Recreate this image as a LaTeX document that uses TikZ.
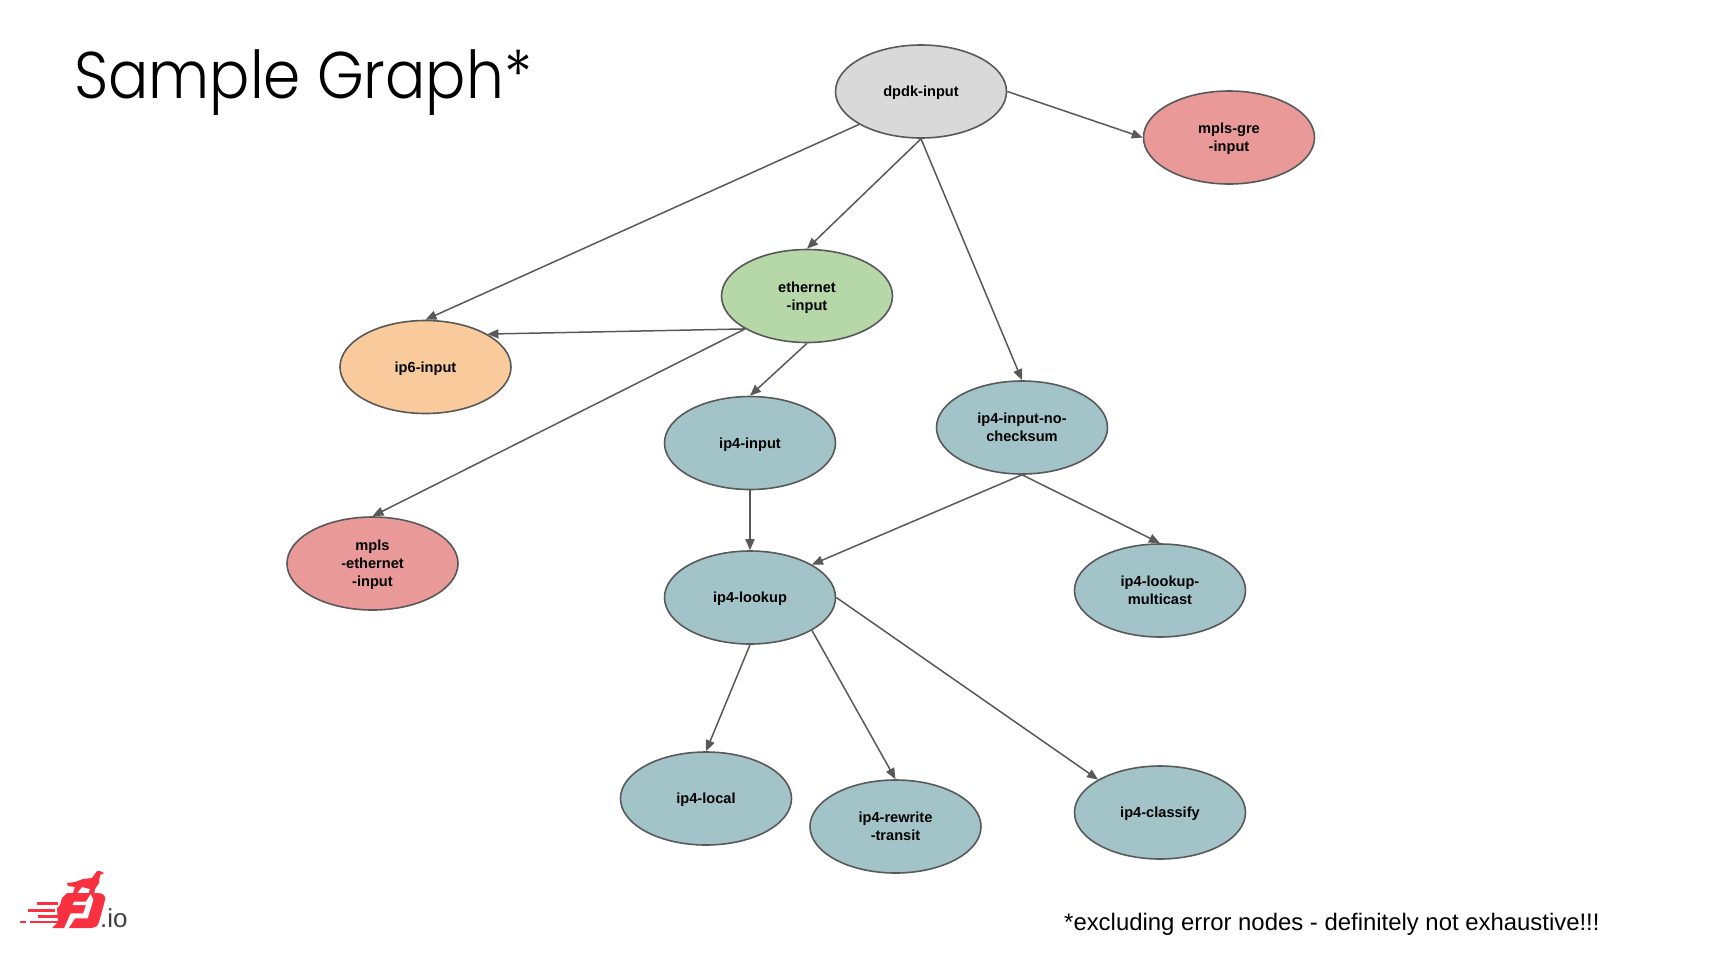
\documentclass[tikz,border=0pt]{standalone}
\usepackage{graphicx}
\usepackage{fontspec}
\setmainfont{Liberation Sans}
\newfontfamily\titlefont{Poppins Light}
\usetikzlibrary{shapes.geometric,arrows.meta}
\definecolor{edgec}{HTML}{595959}
\definecolor{cgray}{HTML}{D9D9D9}
\definecolor{cred}{HTML}{EA9999}
\definecolor{cgreen}{HTML}{B6D7A8}
\definecolor{corange}{HTML}{F9CB9C}
\definecolor{cblue}{HTML}{A2C4C9}
\definecolor{logored}{HTML}{F9303F}
\newcommand{\tstr}{\rule{0pt}{16pt}\strut}
\tikzset{
  gn/.style={ellipse,draw=edgec,line width=1.6pt,minimum width=171pt,minimum height=93pt,inner sep=0pt,align=center,
    font=\fontsize{14.6}{18}\selectfont\bfseries,text=black},
  conn/.style={draw=edgec,line width=1.5pt,-{Triangle[length=11pt,width=9pt]}},
}
\begin{document}
\begin{tikzpicture}[x=1pt,y=-1pt]
\useasboundingbox (0,0) rectangle (1719,967);
\fill[white] (0,0) rectangle (1719,967);
\node[gn,fill=cgray] (dpdk) at (921,91.5) {\tstr dpdk-input};
\node[gn,fill=cred] (gre) at (1229,137.5) {\tstr mpls-gre\\\strut -input};
\node[gn,fill=cgreen] (eth) at (807,296) {\tstr ethernet\\\strut -input};
\node[gn,fill=corange] (ip6) at (425.5,367) {\tstr ip6-input};
\node[gn,fill=cblue] (ip4) at (750,443) {\tstr ip4-input};
\node[gn,fill=cblue] (nock) at (1022,427.5) {\tstr ip4-input-no-\\\strut checksum};
\node[gn,fill=cred] (mplse) at (372.5,563.5) {\tstr mpls\\\strut -ethernet\\\strut -input};
\node[gn,fill=cblue] (lookup) at (750,597.5) {\tstr ip4-lookup};
\node[gn,fill=cblue] (multi) at (1160,590.5) {\tstr ip4-lookup-\\\strut multicast};
\node[gn,fill=cblue] (local) at (706,798.5) {\tstr ip4-local};
\node[gn,fill=cblue] (rewrite) at (895.5,826.5) {\tstr ip4-rewrite\\\strut -transit};
\node[gn,fill=cblue] (classify) at (1160,812.5) {\tstr ip4-classify};
\draw[conn] (dpdk.east) -- (gre.west);
\draw[conn] (dpdk.208) -- (ip6.north);
\draw[conn] (dpdk.south) -- (eth.north);
\draw[conn] (dpdk.south) -- (nock.north);
\draw[conn] (eth.208) -- (ip6.28);
\draw[conn] (eth.208) -- (mplse.north);
\draw[conn] (eth.south) -- (ip4.north);
\draw[conn] (ip4.south) -- (lookup.north);
\draw[conn] (nock.south) -- (lookup.28);
\draw[conn] (nock.south) -- (multi.north);
\draw[conn] (lookup.south) -- (local.north);
\draw[conn] (lookup.-28) -- (rewrite.north);
\draw[conn] (lookup.east) -- (classify.152);
\node[anchor=base west,inner sep=0pt,font=\titlefont\fontsize{66}{70}\selectfont] (title) at (74,98) {\scalebox{.905}[1]{Sample Graph*}};
\node[anchor=base west,inner sep=0pt,font=\fontsize{23.9}{28}\selectfont] (foot) at (1064,930) {*excluding error nodes - definitely not exhaustive!!!};
% logo
\fill[logored] (67,883) -- (75,882) -- (83,879) -- (92,878) -- (97,871) -- (100,871) -- (104,873) -- (100,875) -- (99,883) -- (95,889) -- (94,895) -- (88,895) -- (90,889) -- (82,887) -- (78,892) -- (75,895) -- (73,893) -- (75,887) -- (68,886) -- cycle;
\fill[logored] (67,893) -- (98,893) .. controls (103,893) and (106,896) .. (105,900) -- (99,922) .. controls (98,926) and (95,928) .. (92,928) -- (52,928) -- (58,922) -- (57,908) -- (60,905) -- (62,898) -- cycle;
\fill[white] (74,901.7) -- (86,901.7) -- (90.7,894) -- (93.3,900) -- (87.7,918.3) -- (75,918.3) -- (68.3,928.5) -- (64,928.5) -- (70.7,913.3) -- (83.3,913.3) -- (86,905) -- (72.7,905) -- cycle;
\fill[logored] (37,902) rectangle (58,905);
\fill[logored] (28,909) rectangle (55,912);
\fill[logored] (38,915) rectangle (60,918);
\fill[logored] (20,921) rectangle (26,923);
\fill[logored] (30,921) rectangle (60,923);
\node[anchor=base west,inner sep=0pt,font=\fontsize{26}{28}\selectfont,text=black!75] (io) at (100,927) {.io};
\end{tikzpicture}
\end{document}
